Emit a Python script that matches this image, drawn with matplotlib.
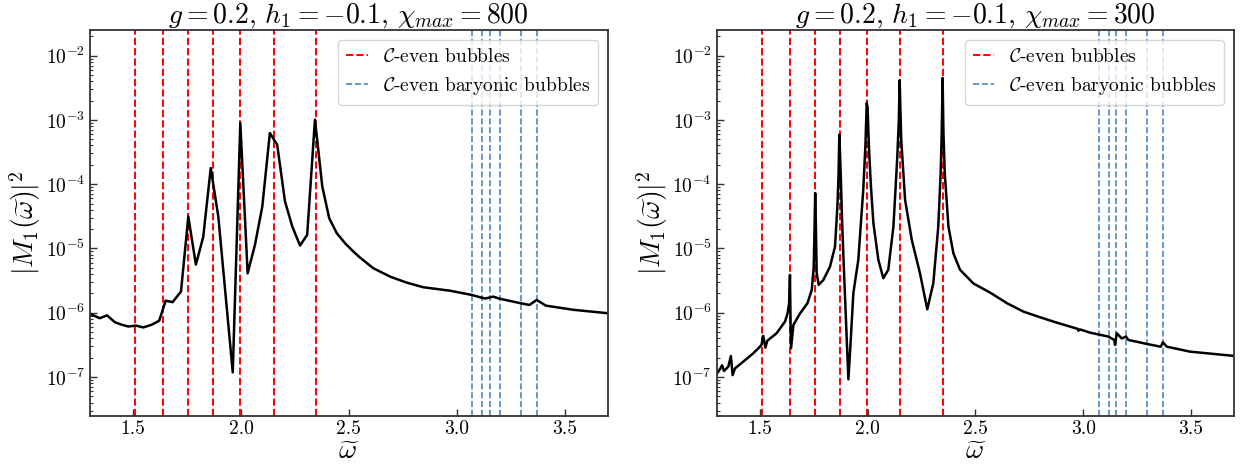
import numpy as np
import matplotlib
matplotlib.use("Agg")
import matplotlib.pyplot as plt
from matplotlib.ticker import FixedLocator, NullFormatter

plt.rcParams.update({
    "font.family": "serif",
    "font.serif": ["cmr10", "DejaVu Serif"],
    "mathtext.fontset": "cm",
    "axes.formatter.use_mathtext": True,
})

# --- data ---
bubble_even = [1.511, 1.640, 1.756, 1.872, 1.996, 2.151, 2.349]
bubble_baryonic = [3.072, 3.118, 3.153, 3.199, 3.296, 3.371]

w_800 = [1.300, 1.346, 1.379, 1.416, 1.448, 1.478, 1.513, 1.547, 1.586, 1.621,
         1.651, 1.683, 1.722, 1.756, 1.791, 1.825, 1.860, 1.895, 1.962, 1.997,
         2.031, 2.065, 2.099, 2.134, 2.168, 2.204, 2.238, 2.274, 2.307, 2.343,
         2.377, 2.409, 2.444, 2.482, 2.521, 2.552, 2.613, 2.691, 2.768, 2.845,
         2.969, 3.070, 3.131, 3.170, 3.196, 3.294, 3.337, 3.371, 3.413, 3.541,
         3.703]
m_800 = [9.6e-7, 8.2e-7, 9.1e-7, 7.1e-7, 6.5e-7, 6.1e-7, 6.3e-7, 5.9e-7, 6.5e-7, 7.5e-7,
         1.54e-6, 1.46e-6, 2.13e-6, 3.14e-5, 5.6e-6, 1.50e-5, 1.78e-4, 3.14e-5, 1.18e-7, 8.95e-4,
         4.1e-6, 1.14e-5, 4.5e-5, 6.25e-4, 4.1e-4, 5.4e-5, 2.19e-5, 1.11e-5, 1.63e-5, 1.01e-3,
         9.2e-5, 2.96e-5, 1.73e-5, 1.21e-5, 8.95e-6, 7.2e-6, 4.93e-6, 3.65e-6, 2.94e-6, 2.49e-6,
         2.2e-6, 1.89e-6, 1.66e-6, 1.78e-6, 1.66e-6, 1.41e-6, 1.32e-6, 1.58e-6, 1.29e-6, 1.11e-6,
         9.8e-7]

w_300 = [1.300, 1.315, 1.325, 1.334, 1.354, 1.366, 1.374, 1.385, 1.423, 1.470,
         1.498, 1.508, 1.516, 1.526, 1.535, 1.578, 1.617, 1.629, 1.636, 1.640,
         1.643, 1.645, 1.656, 1.687, 1.721, 1.741, 1.750, 1.753, 1.757, 1.760,
         1.764, 1.773, 1.795, 1.826, 1.849, 1.860, 1.865, 1.869, 1.872, 1.876,
         1.882, 1.891, 1.902, 1.911, 1.922, 1.934, 1.957, 1.980, 1.990, 1.996,
         2.000, 2.006, 2.015, 2.027, 2.050, 2.073, 2.096, 2.120, 2.138, 2.145,
         2.149, 2.152, 2.156, 2.174, 2.205, 2.243, 2.277, 2.305, 2.328, 2.339,
         2.344, 2.348, 2.352, 2.358, 2.375, 2.398, 2.429, 2.491, 2.568, 2.615,
         2.646, 2.723, 2.800, 2.878, 2.975, 2.978, 2.985, 3.032, 3.117, 3.144,
         3.148, 3.156, 3.179, 3.199, 3.210, 3.295, 3.360, 3.370, 3.388, 3.496,
         3.705]
m_300 = [1.11e-7, 1.32e-7, 1.52e-7, 1.24e-7, 1.45e-7, 2.12e-7, 1.07e-7, 1.36e-7, 1.73e-7, 2.34e-7,
         2.90e-7, 3.16e-7, 4.36e-7, 2.86e-7, 3.67e-7, 4.79e-7, 7.28e-7, 9.8e-7, 1.41e-6, 3.88e-6,
         6.3e-7, 2.80e-7, 6.46e-7, 9.8e-7, 1.40e-6, 2.26e-6, 5.0e-6, 1.36e-5, 7.26e-5, 2.5e-5,
         4.12e-6, 2.71e-6, 3.24e-6, 5.24e-6, 1.07e-5, 4.50e-5, 1.26e-4, 5.87e-4, 3.16e-4, 1.26e-4,
         2.5e-5, 4.12e-6, 5.0e-7, 9.2e-8, 3.77e-7, 2.01e-6, 6.64e-6, 8.18e-5, 3.98e-4, 1.83e-3,
         1.58e-3, 3.98e-4, 1.0e-4, 2.48e-5, 6.64e-6, 3.44e-6, 4.65e-6, 2.20e-5, 2.70e-4, 1.0e-3,
         4.13e-3, 1.58e-3, 5.0e-4, 5.71e-5, 1.36e-5, 4.12e-6, 1.13e-6, 2.88e-6, 2.20e-5, 1.49e-4,
         6.3e-4, 4.49e-3, 6.3e-4, 1.49e-4, 2.20e-5, 8.43e-6, 4.65e-6, 2.85e-6, 2.06e-6, 1.64e-6,
         1.41e-6, 1.04e-6, 8.5e-7, 7.0e-7, 5.6e-7, 5.25e-7, 5.5e-7, 4.9e-7, 4.25e-7, 3.77e-7,
         3.16e-7, 4.79e-7, 3.98e-7, 4.25e-7, 3.77e-7, 3.27e-7, 2.96e-7, 3.47e-7, 2.96e-7, 2.48e-7,
         2.12e-7]

x_ticks = [1.5, 2.0, 2.5, 3.0, 3.5]
x_ticklabels = ["1.5", "2.0", "2.5", "3.0", "3.5"]
y_ticks = [1e-7, 1e-6, 1e-5, 1e-4, 1e-3, 1e-2]

panels = [(w_800, m_800, 800), (w_300, m_300, 300)]

ylo, yhi = 2.5e-8, 2.5e-2
minor_ticks = [k * 10.0 ** e for e in range(-8, -1) for k in range(2, 10)
               if ylo <= k * 10.0 ** e <= yhi]

fig = plt.figure(figsize=(12.44, 4.74), dpi=100)
ax_pos = [[0.0723, 0.1230, 0.4162, 0.8137], [0.5761, 0.1230, 0.4159, 0.8137]]

spine_col = "#333333"
for pos, (w, m, chi) in zip(ax_pos, panels):
    ax = fig.add_axes(pos)
    for i, b in enumerate(bubble_even):
        ax.axvline(b, color="red", ls="--", lw=1.4,
                   label=r"$\mathcal{C}$-even bubbles" if i == 0 else None)
    for i, b in enumerate(bubble_baryonic):
        ax.axvline(b, color="#4a86c2", ls="--", lw=1.2,
                   label=r"$\mathcal{C}$-even baryonic bubbles" if i == 0 else None)
    ax.plot(w, m, color="black", lw=1.8)
    ax.set_yscale("log")
    ax.set_xlim(1.3, 3.7)
    ax.set_ylim(ylo, yhi)
    ax.set_xticks(x_ticks)
    ax.set_xticklabels(x_ticklabels)
    ax.yaxis.set_major_locator(FixedLocator(y_ticks))
    ax.yaxis.set_minor_locator(FixedLocator(minor_ticks))
    ax.yaxis.set_minor_formatter(NullFormatter())
    ax.tick_params(which="major", direction="in", length=5, width=1.0,
                   labelsize=14, color=spine_col)
    ax.tick_params(which="minor", direction="in", length=2.5, width=0.8, color=spine_col)
    for s in ax.spines.values():
        s.set_color(spine_col)
        s.set_linewidth(1.3)
    ax.set_title(r"$g=0.2,\, h_1=-0.1,\, \chi_{max}=%d$" % chi, fontsize=20, pad=4)
    ax.set_xlabel(r"$\widetilde{\omega}$", fontsize=20, labelpad=0)
    ax.set_ylabel(r"$|M_1(\widetilde{\omega})|^2$", fontsize=20, labelpad=2)
    ax.legend(loc="upper right", fontsize=14, handlelength=1.1, framealpha=0.8,
              borderaxespad=0.5)

fig.savefig("out.png", dpi=100)
